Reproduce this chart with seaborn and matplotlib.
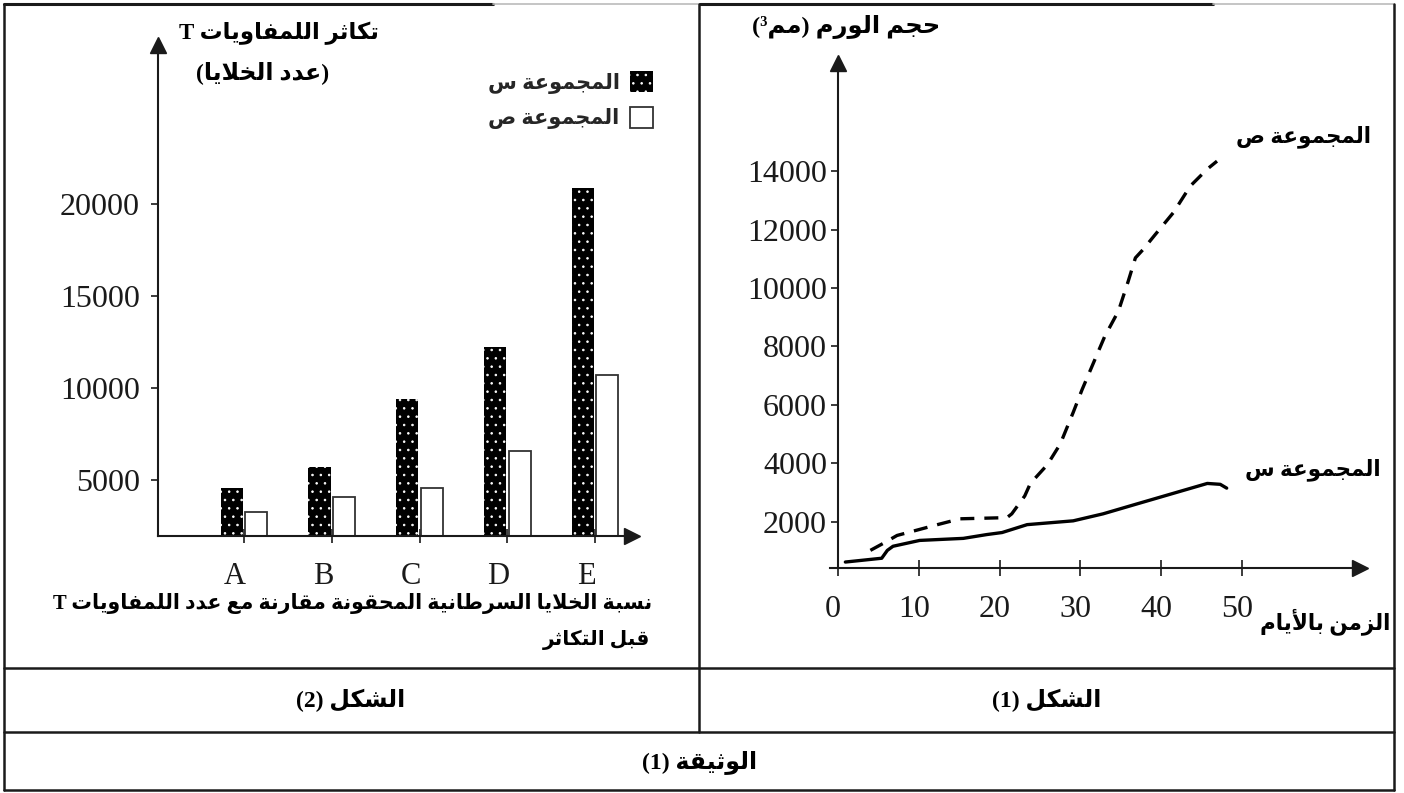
import re
import pandas as pd
import matplotlib
matplotlib.use("Agg")
import matplotlib.pyplot as plt
import seaborn as sns
from matplotlib.lines import Line2D
from matplotlib.patches import Patch
from matplotlib.transforms import ScaledTranslation

# --- figure (2): T lymphocyte proliferation (number of cells) ---
ratios = ["A", "B", "C", "D", "E"]
group_names = ["المجموعة س", "المجموعة ص"]
cells_sin = [4600, 5700, 9400, 12250, 20900]
cells_sad = [3300, 4100, 4600, 6600, 10700]
cells_ticks = [5000, 10000, 15000, 20000]

# --- figure (1): tumour volume (mm3) against time in days ---
days_sin = [0.9, 5.4, 6.1, 6.8, 10.1, 15.5, 18.4, 20.3, 23.4, 29.1, 32.8, 37.0, 41.1, 45.7, 47.3, 48.1]
volume_sin = [620, 750, 1020, 1160, 1360, 1430, 1560, 1630, 1900, 2030, 2270, 2610, 2940, 3310, 3280, 3150]
days_sad = [4.0, 5.6, 7.3, 12.3, 15.1, 20.9, 21.5, 23.1, 23.8, 25.9, 27.5, 29.1, 30.2, 31.6, 33.0,
            34.7, 35.9, 36.8, 37.7, 39.2, 41.5, 43.6, 45.7, 46.9]
volume_sad = [1020, 1260, 1530, 1900, 2100, 2140, 2270, 2880, 3310, 3950, 4660, 5740, 6520, 7430, 8340,
              9210, 10220, 11030, 11300, 11810, 12580, 13490, 14070, 14340]
day_ticks = [0, 10, 20, 30, 40, 50]
volume_ticks = [2000, 4000, 6000, 8000, 10000, 12000, 14000]

lbl_cells = "تكاثر اللمفاويات T"
lbl_cells2 = "(عدد الخلايا)"
lbl_ratio = "نسبة الخلايا السرطانية المحقونة مقارنة مع عدد اللمفاويات T"
lbl_ratio2 = "قبل التكاثر"
lbl_volume = "حجم الورم (مم³)"
lbl_days = "الزمن بالأيام"
title_fig2 = "الشكل (2)"
title_fig1 = "الشكل (1)"
title_doc = "الوثيقة (1)"

# matplotlib has no arabic shaping: map letters to presentation forms by hand
FORMS = {
    "ء": (0xFE80,), "آ": (0xFE81, 0xFE82), "أ": (0xFE83, 0xFE84), "ؤ": (0xFE85, 0xFE86),
    "إ": (0xFE87, 0xFE88), "ئ": (0xFE89, 0xFE8A, 0xFE8B, 0xFE8C), "ا": (0xFE8D, 0xFE8E),
    "ب": (0xFE8F, 0xFE90, 0xFE91, 0xFE92), "ة": (0xFE93, 0xFE94),
    "ت": (0xFE95, 0xFE96, 0xFE97, 0xFE98), "ث": (0xFE99, 0xFE9A, 0xFE9B, 0xFE9C),
    "ج": (0xFE9D, 0xFE9E, 0xFE9F, 0xFEA0), "ح": (0xFEA1, 0xFEA2, 0xFEA3, 0xFEA4),
    "خ": (0xFEA5, 0xFEA6, 0xFEA7, 0xFEA8), "د": (0xFEA9, 0xFEAA), "ذ": (0xFEAB, 0xFEAC),
    "ر": (0xFEAD, 0xFEAE), "ز": (0xFEAF, 0xFEB0), "س": (0xFEB1, 0xFEB2, 0xFEB3, 0xFEB4),
    "ش": (0xFEB5, 0xFEB6, 0xFEB7, 0xFEB8), "ص": (0xFEB9, 0xFEBA, 0xFEBB, 0xFEBC),
    "ض": (0xFEBD, 0xFEBE, 0xFEBF, 0xFEC0), "ط": (0xFEC1, 0xFEC2, 0xFEC3, 0xFEC4),
    "ظ": (0xFEC5, 0xFEC6, 0xFEC7, 0xFEC8), "ع": (0xFEC9, 0xFECA, 0xFECB, 0xFECC),
    "غ": (0xFECD, 0xFECE, 0xFECF, 0xFED0), "ف": (0xFED1, 0xFED2, 0xFED3, 0xFED4),
    "ق": (0xFED5, 0xFED6, 0xFED7, 0xFED8), "ك": (0xFED9, 0xFEDA, 0xFEDB, 0xFEDC),
    "ل": (0xFEDD, 0xFEDE, 0xFEDF, 0xFEE0), "م": (0xFEE1, 0xFEE2, 0xFEE3, 0xFEE4),
    "ن": (0xFEE5, 0xFEE6, 0xFEE7, 0xFEE8), "ه": (0xFEE9, 0xFEEA, 0xFEEB, 0xFEEC),
    "و": (0xFEED, 0xFEEE), "ى": (0xFEEF, 0xFEF0), "ي": (0xFEF1, 0xFEF2, 0xFEF3, 0xFEF4),
}
LAM_ALEF = {"آ": (0xFEF5, 0xFEF6), "أ": (0xFEF7, 0xFEF8), "إ": (0xFEF9, 0xFEFA), "ا": (0xFEFB, 0xFEFC)}
MIRROR = str.maketrans("()", ")(")


def shape(s):
    units = []
    i = 0
    while i < len(s):
        if s[i] == "ل" and i + 1 < len(s) and s[i + 1] in LAM_ALEF:
            units.append(LAM_ALEF[s[i + 1]])
            i += 2
        else:
            units.append(FORMS.get(s[i], s[i]))
            i += 1
    out = []
    for k, u in enumerate(units):
        if isinstance(u, str):
            out.append(u)
            continue
        prev = units[k - 1] if k > 0 else None
        nxt = units[k + 1] if k + 1 < len(units) else None
        join_prev = isinstance(prev, tuple) and len(prev) == 4
        join_next = len(u) == 4 and isinstance(nxt, tuple)
        if len(u) == 4:
            idx = [[0, 2], [1, 3]][join_prev][join_next]
        elif len(u) == 2:
            idx = 1 if join_prev else 0
        else:
            idx = 0
        out.append(chr(u[idx]))
    return "".join(out)


def rtl(s):
    runs = re.findall(r"[A-Za-z0-9³]+|[^A-Za-z0-9³]+", shape(s))
    vis = []
    for r in reversed(runs):
        if re.match(r"[A-Za-z0-9³]", r):
            vis.append(r)
        else:
            vis.append(r[::-1].translate(MIRROR))
    return "".join(vis)


sns.set_style("ticks")
AR = ["Liberation Serif", "DejaVu Sans"]
INK = "#1a1a1a"
plt.rcParams["font.family"] = AR
plt.rcParams["axes.edgecolor"] = INK
plt.rcParams["axes.linewidth"] = 1.5
plt.rcParams["xtick.color"] = INK
plt.rcParams["ytick.color"] = INK
plt.rcParams["hatch.linewidth"] = 0.6

W, H = 1404, 793
fig = plt.figure(figsize=(W / 100, H / 100), dpi=100)


def box(x0, y0, x1, y1):
    return [x0 / W, 1 - y1 / H, (x1 - x0) / W, (y1 - y0) / H]


def label(x, y, s, ha="right", size=15):
    fig.text(x / W, 1 - y / H, rtl(s), ha=ha, va="center", fontsize=size,
             fontweight="bold", family=AR, color="black")


ax_bar = fig.add_axes(box(158, 45, 632, 536))
ax_line = fig.add_axes(box(830, 63, 1360, 568))

# ---- bar chart ----
bars = pd.DataFrame({
    "ratio": ratios * 2,
    "cells": cells_sin + cells_sad,
    "group": [group_names[0]] * len(ratios) + [group_names[1]] * len(ratios),
})
sns.barplot(data=bars, x="ratio", y="cells", hue="group", hue_order=group_names,
            palette=["black", "white"], saturation=1, width=0.56, gap=0.1,
            errorbar=None, legend=False, ax=ax_bar)
for bar in ax_bar.containers[0]:
    bar.set_edgecolor("white")
    bar.set_linewidth(0)
    bar.set_hatch("..")
for bar in ax_bar.containers[1]:
    bar.set_edgecolor("#333333")
    bar.set_linewidth(1.3)

ax_bar.set_xlim(-0.98, 4.42)
ax_bar.set_ylim(1980, 28640)
ax_bar.set_yticks(cells_ticks)
ax_bar.set_xlabel("")
ax_bar.set_ylabel("")
sns.despine(ax=ax_bar)
ax_bar.tick_params(axis="y", direction="out", length=5, width=1.2, pad=8, labelsize=23)
ax_bar.tick_params(axis="x", direction="inout", length=10, width=1.2, pad=14, labelsize=22)
ax_bar.plot(1, 0, ">", color=INK, ms=11, transform=ax_bar.transAxes, clip_on=False)
ax_bar.plot(0, 1, "^", color=INK, ms=11, transform=ax_bar.transAxes, clip_on=False)
for t in ax_bar.get_xticklabels():
    t.set_transform(t.get_transform() + ScaledTranslation(-0.09, 0, fig.dpi_scale_trans))

handles = [Patch(facecolor="black", edgecolor="white", hatch="..", linewidth=0),
           Patch(facecolor="white", edgecolor="#333333", linewidth=1.3)]
ax_bar.legend(handles, [rtl(g) for g in group_names], markerfirst=False, frameon=False,
              loc="upper right", bbox_to_anchor=(653 / W, 1 - 71 / H),
              bbox_transform=fig.transFigure,
              prop={"family": AR, "weight": "bold", "size": 15},
              handlelength=1.1, handleheight=1.2, handletextpad=0.5,
              labelspacing=0.62, borderaxespad=0, borderpad=0)

# ---- line chart ----
lines = pd.DataFrame({
    "day": days_sin + days_sad,
    "volume": volume_sin + volume_sad,
    "group": [group_names[0]] * len(days_sin) + [group_names[1]] * len(days_sad),
})
sns.lineplot(data=lines, x="day", y="volume", style="group", style_order=group_names,
             dashes={group_names[0]: "", group_names[1]: (4.2, 3.0)},
             color="black", lw=2.4, estimator=None, sort=False, legend=False, ax=ax_line)
ax_line.set_xlim(-1, 64.6)
ax_line.set_ylim(416, 17700)
ax_line.set_xticks(day_ticks)
ax_line.set_yticks(volume_ticks)
ax_line.set_xlabel("")
ax_line.set_ylabel("")
sns.despine(ax=ax_line)
ax_line.spines["left"].set_position(("data", 0))
ax_line.tick_params(axis="y", direction="out", length=5, width=1.2, pad=3, labelsize=23)
ax_line.tick_params(axis="x", direction="inout", length=11, width=1.2, pad=14, labelsize=23)
ax_line.plot(1, 0, ">", color=INK, ms=11, transform=ax_line.transAxes, clip_on=False)
ax_line.plot(0, 1, "^", color=INK, ms=11, transform=ax_line.get_xaxis_transform(), clip_on=False)
for t in ax_line.get_xticklabels():
    t.set_transform(t.get_transform() + ScaledTranslation(-0.05, 0, fig.dpi_scale_trans))

# ---- texts ----
label(379, 33, lbl_cells, size=16.5)
label(329, 73, lbl_cells2, size=17)
label(652, 604, lbl_ratio, size=14.8)
label(650, 640, lbl_ratio2, size=14.5)
label(940, 27, lbl_volume, size=17.5)
label(1371, 137, group_names[1], size=15.5)
label(1381, 470, group_names[0], size=15.5)
label(1390, 622, lbl_days, size=15.5)
label(351, 700, title_fig2, ha="center", size=17)
label(1047, 700, title_fig1, ha="center", size=17)
label(700, 762, title_doc, ha="center", size=17)

# ---- table frame ----
def rule(xs, ys, color=INK, lw=1.8):
    fig.add_artist(Line2D([x / W for x in xs], [1 - y / H for y in ys], color=color, lw=lw))


rule([4, 493], [4, 4], lw=2.2)
rule([493, 700], [4, 4], color="#bbbbbb", lw=1.2)
rule([700, 1213], [4, 4], lw=2.2)
rule([1213, 1394], [4, 4], color="#bbbbbb", lw=1.2)
rule([4, 4], [4, 790])
rule([1394, 1394], [4, 790])
rule([699, 699], [4, 732])
rule([4, 1394], [668, 668])
rule([4, 1394], [732, 732])
rule([4, 1394], [790, 790])

fig.savefig("out.png", dpi=100)
